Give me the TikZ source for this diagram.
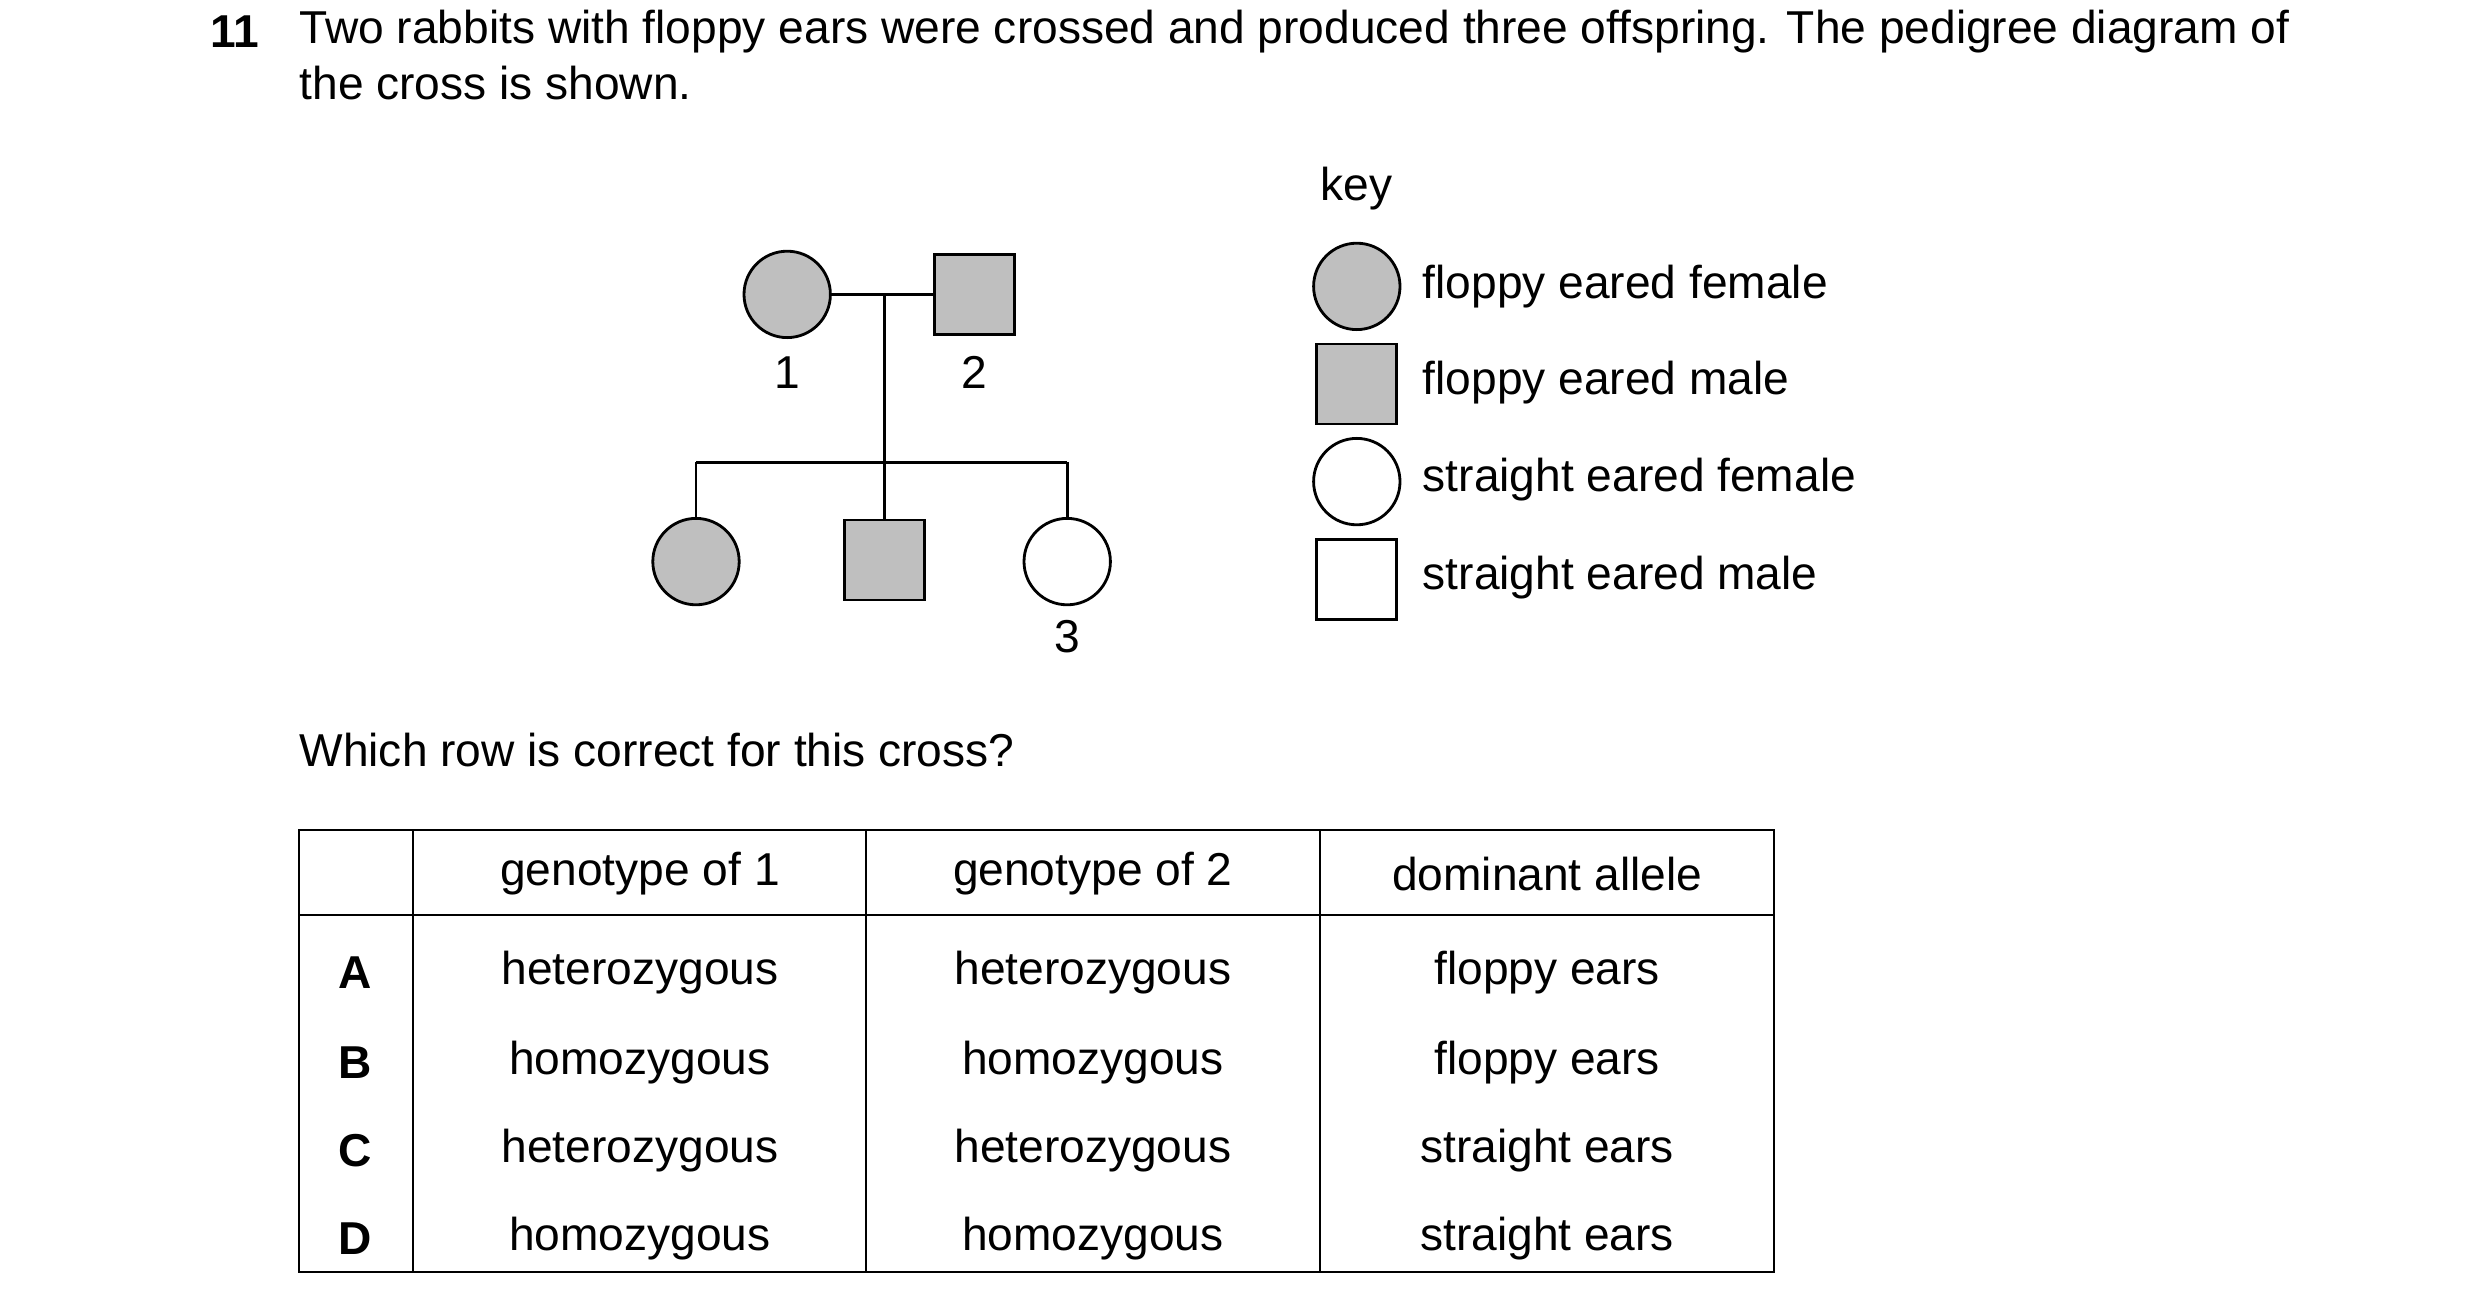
\documentclass[tikz,border=0pt]{standalone}
\usepackage{fontspec}
\setmainfont{Liberation Sans}
\begin{document}
\begin{tikzpicture}[x=0.3mm,y=-0.3mm,
  t/.style={font=\fontsize{24.6}{29}\selectfont,inner sep=0pt},
  tb/.style={font=\fontsize{24.6}{29}\selectfont\bfseries,inner sep=0pt},
  ln/.style={line width=1.5pt},
  fem/.style={circle,draw,line width=1.5pt,minimum size=54*0.3mm,inner sep=0pt},
  mal/.style={rectangle,draw,line width=1.5pt,minimum size=50*0.3mm,inner sep=0pt},
  gr/.style={fill=black!25}]
\useasboundingbox (0,0) rectangle (1550,811);
\node[tb] (n) at (147,20) {11};
\node[t,anchor=west] (q1) at (187,20) {Two rabbits with floppy ears were crossed and produced three offspring. The pedigree diagram of};
\node[t,anchor=west] (q2) at (187,52) {the cross is shown.};
\node[t] (key) at (848,118) {key};
% pedigree
\node[fem,gr] (p1) at (492,184) {};
\node[mal,gr] (p2) at (609,184) {};
\node[t] (l1) at (492,233) {1};
\node[t] (l2) at (609,233) {2};
\coordinate (m) at (553,184);
\coordinate (j) at (553,289);
\coordinate (jl) at (435,289);
\coordinate (jr) at (667,289);
\node[fem,gr] (c1) at (435,351) {};
\node[mal,gr] (c2) at (553,350) {};
\node[fem] (c3) at (667,351) {};
\node[t] (l3) at (667,398) {3};
\draw[ln] (p1) -- (p2);
\draw[ln] (m) -- (j);
\draw[ln] (jl) -- (jr);
\draw[ln] (jl) -- (c1);
\draw[ln] (j) -- (c2);
\draw[ln] (jr) -- (c3);
% key
\node[fem,gr] (k1) at (848,179) {};
\node[mal,gr] (k2) at (848,240) {};
\node[fem] (k3) at (848,301) {};
\node[mal] (k4) at (848,362) {};
\node[t,anchor=west] (kt1) at (889,179) {floppy eared female};
\node[t,anchor=west] (kt2) at (889,239) {floppy eared male};
\node[t,anchor=west] (kt3) at (889,300) {straight eared female};
\node[t,anchor=west] (kt4) at (889,361) {straight eared male};
\node[t,anchor=west] (wq) at (187,469) {Which row is correct for this cross?};
% table
\draw[line width=1pt] (187,519) rectangle (1109,795);
\draw[line width=1pt] (187,572) -- (1109,572);
\foreach \x in {258,541,825} \draw[line width=1pt] (\x,519) -- (\x,795);
\node[t] (h1) at (400,546) {genotype of 1};
\node[t] (h2) at (683,546) {genotype of 2};
\node[t] (h3) at (967,546) {dominant allele};
\foreach \y/\L/\a/\b/\c in {608/A/heterozygous/heterozygous/floppy ears,664/B/homozygous/homozygous/floppy ears,719/C/heterozygous/heterozygous/straight ears,774/D/homozygous/homozygous/straight ears}{
  \node[tb] at (222,\y) {\L};
  \node[t] at (400,\y) {\a};
  \node[t] at (683,\y) {\b};
  \node[t] at (967,\y) {\c};
}
\end{tikzpicture}
\end{document}
